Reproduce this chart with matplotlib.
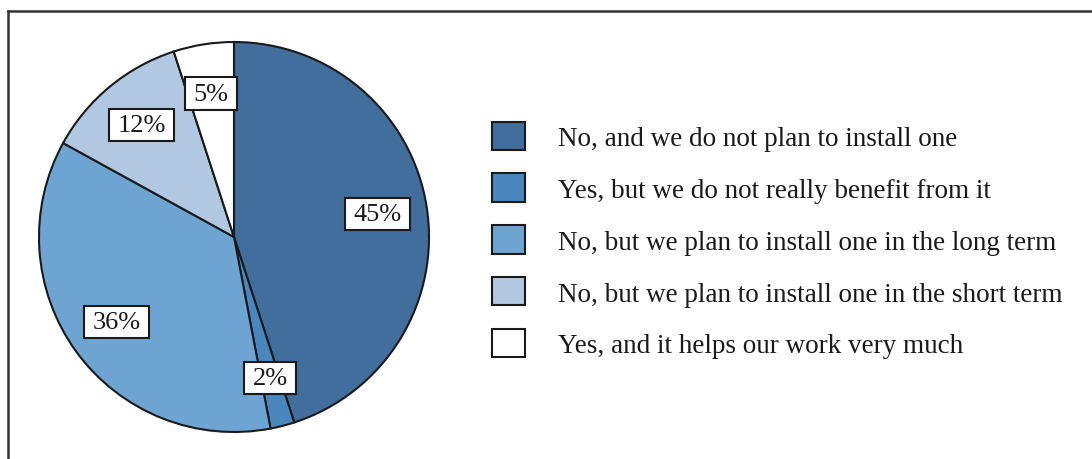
import matplotlib
matplotlib.use("Agg")
import matplotlib.pyplot as plt
from matplotlib.lines import Line2D

categories = [
    "No, and we do not plan to install one",
    "Yes, but we do not really benefit from it",
    "No, but we plan to install one in the long term",
    "No, but we plan to install one in the short term",
    "Yes, and it helps our work very much",
]
values = [45, 2, 36, 12, 5]
colors = ["#416e9c", "#4a87bf", "#6ea4d2", "#b0c8e1", "#ffffff"]

plt.rcParams["font.family"] = ["Liberation Serif", "DejaVu Serif"]

W, H = 1092, 460
fig = plt.figure(figsize=(W / 100, H / 100), dpi=100)

# frame (top and left border visible, continuing off-image)
fig.add_artist(Line2D([8 / W, 1.0], [1 - 12 / H, 1 - 12 / H], color="#333333", lw=1.8,
                      transform=fig.transFigure))
fig.add_artist(Line2D([8 / W, 8 / W], [1 - 12 / H, 0], color="#333333", lw=1.8,
                      transform=fig.transFigure))

cx, cy, r = 234, 238, 195
ax = fig.add_axes([(cx - r) / W, (H - cy - r) / H, 2 * r / W, 2 * r / H])

wedges, texts, autotexts = ax.pie(
    values, colors=colors, startangle=90, counterclock=False,
    autopct="%d%%", pctdistance=0.745,
    wedgeprops=dict(edgecolor="#1a1a1a", linewidth=1.5),
    textprops=dict(fontsize=19, color="#1a1a1a"),
)
for w in wedges:
    w.set_clip_on(False)
for t in autotexts:
    t.set_bbox(dict(boxstyle="square,pad=0.32", facecolor="white",
                    edgecolor="#1a1a1a", linewidth=1.5, mutation_aspect=0.6))
ax.set_xlim(-1, 1)
ax.set_ylim(-1, 1)
ax.set_aspect("equal")

leg = fig.legend(
    wedges, categories, loc="center left",
    bbox_to_anchor=(492 / W, 1 - 241 / H),
    frameon=False, fontsize=19.5,
    handlelength=1.22, handleheight=1.22, handletextpad=1.2,
    labelspacing=0.84, borderaxespad=0, borderpad=0,
)
for t in leg.get_texts():
    t.set_color("#1a1a1a")

fig.savefig("out.png", dpi=100, facecolor="white")
